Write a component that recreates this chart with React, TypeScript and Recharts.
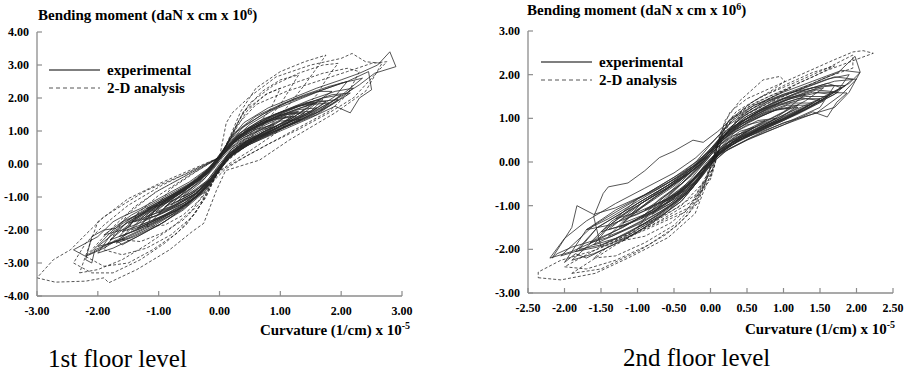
import React from 'react';
import { LineChart, Line, XAxis, YAxis } from 'recharts';

type Pt = [number, number];

// axis ticks
const floor1XTicks = [-3, -2, -1, 0, 1, 2, 3];
const floor1YTicks = [-4, -3, -2, -1, 0, 1, 2, 3, 4];
const floor2XTicks = [-2.5, -2, -1.5, -1, -0.5, 0, 0.5, 1, 1.5, 2, 2.5];
const floor2YTicks = [-3, -2, -1, 0, 1, 2, 3];

// 1st floor, experimental cycles (curvature, moment)
const floor1Experimental: Pt[][] = [
  [[-0.6, -1.0], [-0.35, -0.75], [-0.15, -0.45], [0, -0.1], [0.15, 0.3], [0.35, 0.6], [0.6, 0.85], [0.4, 0.75], [0.2, 0.5], [0.05, 0.2], [-0.1, -0.15], [-0.3, -0.55], [-0.6, -1.0]],
  [[-0.9, -1.3], [-0.6, -1.05], [-0.3, -0.75], [-0.1, -0.35], [0.05, 0.05], [0.2, 0.45], [0.5, 0.8], [0.9, 1.2], [0.6, 1.05], [0.3, 0.75], [0.1, 0.4], [-0.05, 0], [-0.25, -0.45], [-0.55, -0.85], [-0.9, -1.3]],
  [[-1.2, -1.6], [-0.9, -1.4], [-0.5, -1.05], [-0.2, -0.6], [0, -0.15], [0.15, 0.3], [0.45, 0.7], [0.8, 1.0], [1.2, 1.45], [0.9, 1.35], [0.5, 1.0], [0.2, 0.6], [0, 0.15], [-0.2, -0.3], [-0.5, -0.7], [-0.85, -1.15], [-1.2, -1.6]],
  [[-1.4, -1.75], [-1.0, -1.55], [-0.6, -1.2], [-0.25, -0.75], [-0.05, -0.25], [0.1, 0.2], [0.4, 0.6], [0.8, 0.95], [1.1, 1.25], [1.4, 1.55], [1.1, 1.5], [0.7, 1.2], [0.35, 0.85], [0.1, 0.4], [-0.1, -0.05], [-0.35, -0.5], [-0.7, -0.95], [-1.05, -1.35], [-1.4, -1.75]],
  [[-1.6, -2.05], [-1.3, -1.85], [-0.9, -1.55], [-0.5, -1.15], [-0.2, -0.65], [0, -0.2], [0.2, 0.3], [0.5, 0.7], [0.9, 1.05], [1.3, 1.4], [1.6, 1.7], [1.3, 1.65], [0.9, 1.4], [0.5, 1.05], [0.2, 0.6], [0, 0.15], [-0.25, -0.35], [-0.6, -0.8], [-1.0, -1.2], [-1.35, -1.65], [-1.6, -2.05]],
  [[-1.8, -2.3], [-1.5, -2.1], [-1.1, -1.8], [-0.7, -1.4], [-0.3, -0.85], [-0.05, -0.3], [0.15, 0.2], [0.45, 0.6], [0.9, 0.95], [1.3, 1.3], [1.8, 1.85], [1.5, 1.8], [1.1, 1.55], [0.7, 1.25], [0.3, 0.85], [0.05, 0.3], [-0.2, -0.25], [-0.55, -0.75], [-0.95, -1.2], [-1.4, -1.7], [-1.8, -2.3]],
  [[-2.0, -2.5], [-1.7, -2.35], [-1.3, -2.0], [-0.8, -1.55], [-0.4, -1.0], [-0.1, -0.4], [0.1, 0.1], [0.4, 0.5], [0.8, 0.9], [1.3, 1.3], [1.7, 1.7], [2.0, 2.1], [1.7, 2.0], [1.3, 1.75], [0.9, 1.5], [0.5, 1.1], [0.2, 0.6], [0, 0.2], [-0.25, -0.3], [-0.6, -0.75], [-1.0, -1.2], [-1.5, -1.75], [-2.0, -2.5]],
  [[-2.15, -2.75], [-1.9, -2.5], [-1.7, -2.3], [-1.6, -2.45], [-1.3, -2.15], [-0.9, -1.75], [-0.5, -1.2], [-0.15, -0.55], [0.05, 0], [0.3, 0.45], [0.7, 0.85], [1.2, 1.2], [1.6, 1.5], [2.0, 2.0], [2.2, 2.3], [1.9, 2.2], [1.5, 1.95], [1.1, 1.65], [0.7, 1.35], [0.35, 0.95], [0.1, 0.45], [-0.1, 0], [-0.4, -0.5], [-0.8, -0.95], [-1.2, -1.35], [-1.55, -1.75], [-1.75, -2.0], [-2.15, -2.75]],
  [[-2.2, -2.9], [-2.1, -3.0], [-2.05, -2.6], [-1.8, -2.4], [-1.5, -2.25], [-1.1, -1.9], [-0.7, -1.45], [-0.3, -0.9], [-0.05, -0.3], [0.15, 0.2], [0.5, 0.6], [1.0, 1.0], [1.5, 1.4], [1.9, 1.75], [2.15, 1.55], [2.3, 2.0], [2.5, 2.25], [2.45, 2.8], [2.1, 2.5], [1.7, 2.25], [1.3, 1.95], [0.9, 1.65], [0.5, 1.2], [0.2, 0.7], [0, 0.25], [-0.2, -0.2], [-0.5, -0.65], [-0.9, -1.05], [-1.3, -1.5], [-1.6, -1.75], [-1.7, -1.95], [-1.9, -2.0], [-2.1, -2.2], [-2.2, -2.9]],
  [[-2.4, -2.6], [-2.2, -2.8], [-1.9, -2.55], [-1.5, -2.1], [-1.0, -1.65], [-0.5, -1.1], [-0.15, -0.5], [0.1, 0.1], [0.4, 0.55], [0.9, 1.05], [1.5, 1.55], [2.0, 2.05], [2.3, 2.4], [2.55, 2.75], [2.9, 2.95], [2.8, 3.4], [2.6, 3.0], [2.3, 2.75], [2.0, 2.55], [1.6, 2.3], [1.2, 2.0], [0.8, 1.7], [0.4, 1.25], [0.15, 0.7], [0, 0.25], [-0.2, -0.15], [-0.5, -0.55], [-0.9, -0.95], [-1.3, -1.35], [-1.6, -1.6], [-1.75, -1.75], [-2.0, -2.2], [-2.4, -2.6]],
  [[-1.1, -1.7], [-0.8, -1.45], [-0.45, -1.1], [-0.15, -0.6], [0.05, -0.05], [0.25, 0.4], [0.6, 0.8], [1.0, 1.1], [1.35, 1.35], [1.0, 1.3], [0.6, 1.0], [0.25, 0.65], [0.05, 0.25], [-0.15, -0.2], [-0.45, -0.7], [-0.8, -1.15], [-1.1, -1.7]],
  [[-1.5, -1.8], [-1.2, -1.6], [-0.8, -1.3], [-0.4, -0.9], [-0.1, -0.4], [0.1, 0.1], [0.35, 0.55], [0.75, 1.0], [1.2, 1.4], [1.55, 1.85], [1.25, 1.75], [0.85, 1.45], [0.45, 1.05], [0.15, 0.55], [-0.05, 0.05], [-0.3, -0.45], [-0.7, -0.9], [-1.1, -1.3], [-1.5, -1.8]],
  [[-1.3, -1.85], [-1.0, -1.65], [-0.6, -1.3], [-0.3, -0.9], [-0.1, -0.45], [0.05, 0], [0.25, 0.4], [0.6, 0.8], [1.0, 1.15], [1.5, 1.6], [1.7, 1.95], [1.4, 1.85], [1.0, 1.55], [0.6, 1.2], [0.25, 0.75], [0.05, 0.3], [-0.15, -0.15], [-0.45, -0.6], [-0.85, -1.05], [-1.3, -1.85]],
  [[-1.9, -2.15], [-1.6, -2.0], [-1.2, -1.7], [-0.8, -1.35], [-0.4, -0.9], [-0.1, -0.35], [0.1, 0.15], [0.45, 0.55], [0.9, 0.95], [1.4, 1.45], [1.9, 2.05], [2.1, 2.5], [1.8, 2.35], [1.4, 2.1], [1.0, 1.8], [0.6, 1.45], [0.25, 0.95], [0.05, 0.4], [-0.15, -0.1], [-0.5, -0.6], [-0.95, -1.05], [-1.45, -1.55], [-1.9, -2.15]],
  [[-0.8, -1.25], [-0.5, -0.95], [-0.2, -0.55], [0, -0.1], [0.2, 0.35], [0.5, 0.75], [0.8, 1.05], [1.1, 1.45], [0.8, 1.3], [0.5, 1.0], [0.2, 0.6], [0, 0.2], [-0.2, -0.25], [-0.5, -0.7], [-0.8, -1.25]],
  [[-1.7, -2.4], [-1.4, -2.2], [-1.0, -1.85], [-0.6, -1.4], [-0.25, -0.85], [-0.05, -0.3], [0.15, 0.2], [0.5, 0.65], [0.95, 1.1], [1.45, 1.7], [1.85, 2.2], [1.6, 2.2], [1.2, 1.95], [0.8, 1.6], [0.4, 1.15], [0.15, 0.6], [-0.05, 0.1], [-0.35, -0.45], [-0.75, -0.95], [-1.2, -1.5], [-1.7, -2.4]],
  [[-1.0, -1.5], [-0.7, -1.25], [-0.35, -0.85], [-0.1, -0.35], [0.1, 0.15], [0.35, 0.6], [0.7, 0.95], [1.05, 1.25], [1.3, 1.6], [1.0, 1.5], [0.65, 1.2], [0.3, 0.85], [0.05, 0.35], [-0.15, -0.1], [-0.4, -0.55], [-0.7, -0.95], [-1.0, -1.5]],
  [[-1.45, -2.0], [-1.1, -1.75], [-0.7, -1.4], [-0.35, -0.95], [-0.1, -0.4], [0.1, 0.1], [0.4, 0.55], [0.8, 0.9], [1.25, 1.3], [1.65, 1.6], [1.95, 1.95], [1.65, 1.9], [1.25, 1.65], [0.85, 1.35], [0.45, 1.0], [0.15, 0.55], [-0.05, 0.1], [-0.3, -0.4], [-0.65, -0.85], [-1.05, -1.3], [-1.45, -2.0]],
  [[-2.0, -2.7], [-1.75, -2.55], [-1.35, -2.2], [-0.95, -1.8], [-0.55, -1.3], [-0.2, -0.7], [0, -0.1], [0.25, 0.35], [0.65, 0.8], [1.1, 1.15], [1.6, 1.55], [2.05, 2.15], [2.35, 2.6], [2.0, 2.45], [1.55, 2.15], [1.1, 1.85], [0.7, 1.5], [0.3, 1.0], [0.05, 0.4], [-0.2, -0.2], [-0.55, -0.75], [-0.95, -1.2], [-1.4, -1.65], [-1.75, -2.05], [-2.0, -2.7]],
  [[-1.2, -1.35], [-0.9, -1.2], [-0.5, -0.9], [-0.2, -0.5], [0, 0], [0.2, 0.45], [0.5, 0.85], [0.9, 1.25], [1.25, 1.55], [0.95, 1.45], [0.55, 1.1], [0.25, 0.7], [0.05, 0.3], [-0.15, -0.15], [-0.45, -0.6], [-0.8, -0.95], [-1.2, -1.35]],
  [[-0.7, -1.15], [-0.45, -0.9], [-0.2, -0.5], [0, -0.05], [0.2, 0.4], [0.45, 0.7], [0.75, 0.95], [0.95, 1.15], [0.7, 1.05], [0.4, 0.8], [0.15, 0.45], [-0.05, 0.05], [-0.25, -0.4], [-0.5, -0.8], [-0.7, -1.15]],
  [[-1.35, -1.95], [-1.05, -1.7], [-0.65, -1.35], [-0.3, -0.85], [-0.05, -0.2], [0.15, 0.25], [0.5, 0.7], [0.9, 1.05], [1.35, 1.5], [1.6, 1.85], [1.3, 1.75], [0.9, 1.45], [0.5, 1.1], [0.2, 0.65], [0, 0.2], [-0.25, -0.35], [-0.6, -0.85], [-1.0, -1.3], [-1.35, -1.95]],
  [[-1.65, -2.2], [-1.35, -2.0], [-0.95, -1.65], [-0.55, -1.25], [-0.2, -0.7], [0, -0.15], [0.2, 0.3], [0.55, 0.75], [1.0, 1.15], [1.45, 1.5], [1.75, 1.9], [1.45, 1.85], [1.05, 1.6], [0.65, 1.3], [0.3, 0.9], [0.05, 0.35], [-0.2, -0.2], [-0.55, -0.7], [-0.95, -1.15], [-1.35, -1.6], [-1.65, -2.2]],
  [[-1.05, -1.45], [-0.75, -1.25], [-0.4, -0.9], [-0.15, -0.45], [0.05, 0.05], [0.3, 0.5], [0.65, 0.9], [1.0, 1.2], [1.25, 1.45], [0.95, 1.35], [0.6, 1.05], [0.3, 0.75], [0.05, 0.3], [-0.15, -0.2], [-0.45, -0.65], [-0.75, -1.0], [-1.05, -1.45]],
  [[-1.85, -2.45], [-1.55, -2.25], [-1.15, -1.9], [-0.75, -1.5], [-0.35, -0.95], [-0.05, -0.3], [0.2, 0.25], [0.6, 0.75], [1.05, 1.1], [1.5, 1.45], [1.85, 1.8], [2.15, 2.15], [1.85, 2.1], [1.45, 1.85], [1.05, 1.55], [0.65, 1.2], [0.3, 0.8], [0.05, 0.3], [-0.2, -0.25], [-0.6, -0.8], [-1.05, -1.25], [-1.5, -1.7], [-1.85, -2.45]],
  [[-1.25, -1.7], [-0.95, -1.5], [-0.55, -1.15], [-0.25, -0.7], [-0.05, -0.2], [0.15, 0.3], [0.45, 0.65], [0.85, 1.0], [1.25, 1.35], [1.5, 1.6], [1.2, 1.55], [0.8, 1.3], [0.4, 0.95], [0.15, 0.5], [-0.05, 0.05], [-0.3, -0.45], [-0.65, -0.9], [-0.95, -1.2], [-1.25, -1.7]],
];

// 1st floor, 2-D analysis cycles
const floor1Analysis: Pt[][] = [
  [[-3.0, -3.45], [-2.7, -3.58], [-2.2, -3.55], [-1.9, -3.45], [-1.82, -3.6], [-1.36, -3.2], [-0.82, -2.6], [-0.45, -2.05], [-0.26, -1.8], [-0.05, -0.8], [0.1, -0.2], [0.66, 0.12], [1.15, 0.73], [1.9, 1.55], [2.4, 2.2], [2.67, 3.05], [2.4, 3.1], [2.18, 3.35], [2.0, 3.2], [1.5, 3.0], [0.93, 2.64], [0.49, 2.03], [0.21, 1.55], [0.11, 1.24], [0, 0.2], [-0.55, -0.3], [-1.2, -0.8], [-1.47, -1.1], [-1.9, -1.6], [-2.18, -2.1], [-2.45, -2.6], [-2.73, -2.9], [-3.0, -3.45]],
  [[-2.4, -3.0], [-2.1, -3.3], [-1.75, -3.3], [-1.3, -2.9], [-0.9, -2.4], [-0.55, -1.85], [-0.3, -1.2], [-0.12, -0.55], [0.1, -0.15], [0.45, 0.25], [0.9, 0.7], [1.4, 1.2], [1.8, 1.6], [2.1, 2.1], [2.3, 2.8], [2.1, 2.9], [1.7, 2.75], [1.3, 2.5], [0.8, 2.15], [0.4, 1.6], [0.22, 0.95], [0.08, 0.45], [0, 0.2], [-0.45, -0.2], [-0.95, -0.65], [-1.5, -1.25], [-1.9, -1.85], [-2.2, -2.4], [-2.4, -3.0]],
  [[-2.2, -2.8], [-1.9, -3.1], [-1.5, -3.0], [-1.1, -2.6], [-0.7, -2.1], [-0.4, -1.5], [-0.2, -0.9], [-0.05, -0.35], [0.15, 0.0], [0.5, 0.4], [0.9, 0.9], [1.3, 1.5], [1.6, 2.1], [1.8, 2.7], [1.95, 3.05], [1.7, 3.0], [1.3, 2.75], [0.9, 2.4], [0.5, 1.85], [0.3, 1.25], [0.12, 0.6], [0, 0.2], [-0.5, -0.3], [-1.0, -0.8], [-1.4, -1.3], [-1.8, -2.0], [-2.2, -2.8]],
  [[-1.9, -2.6], [-1.6, -2.75], [-1.2, -2.55], [-0.8, -2.15], [-0.45, -1.6], [-0.22, -1.0], [-0.08, -0.4], [0.1, 0.05], [0.4, 0.5], [0.8, 1.1], [1.1, 1.7], [1.4, 2.4], [1.75, 3.3], [1.4, 3.1], [1.0, 2.8], [0.6, 2.3], [0.35, 1.6], [0.2, 0.95], [0.05, 0.35], [0, 0.2], [-0.55, -0.35], [-1.05, -0.85], [-1.5, -1.5], [-1.9, -2.6]],
  [[-1.6, -2.3], [-1.3, -2.35], [-0.95, -2.1], [-0.6, -1.7], [-0.3, -1.15], [-0.12, -0.55], [0.05, -0.05], [0.3, 0.45], [0.65, 1.05], [1.0, 1.8], [1.3, 2.7], [1.0, 2.55], [0.7, 2.2], [0.4, 1.6], [0.2, 0.9], [0.05, 0.35], [0, 0.2], [-0.5, -0.35], [-1.0, -0.95], [-1.35, -1.5], [-1.6, -2.3]],
  [[-1.2, -1.9], [-0.9, -1.85], [-0.6, -1.55], [-0.3, -1.05], [-0.1, -0.5], [0.05, 0], [0.3, 0.55], [0.6, 1.1], [0.85, 1.7], [1.0, 2.3], [0.75, 2.1], [0.45, 1.6], [0.25, 1.0], [0.1, 0.5], [0, 0.2], [-0.4, -0.25], [-0.8, -0.75], [-1.05, -1.3], [-1.2, -1.9]],
  [[-2.3, -3.3], [-2.0, -3.2], [-1.6, -2.9], [-1.2, -2.45], [-0.8, -1.95], [-0.45, -1.4], [-0.2, -0.75], [0, -0.2], [0.3, 0.1], [0.8, 0.6], [1.3, 1.05], [1.8, 1.55], [2.2, 2.0], [2.5, 2.6], [2.75, 3.1], [2.5, 3.05], [2.1, 2.8], [1.6, 2.5], [1.1, 2.2], [0.6, 1.8], [0.3, 1.2], [0.12, 0.55], [0, 0.2], [-0.5, -0.2], [-1.0, -0.6], [-1.5, -1.05], [-2.0, -1.75], [-2.3, -3.3]],
];

// 2nd floor, experimental cycles
const floor2Experimental: Pt[][] = [
  [[-0.6, -0.9], [-0.35, -0.65], [-0.15, -0.35], [0, 0], [0.15, 0.35], [0.35, 0.6], [0.6, 0.8], [0.4, 0.7], [0.2, 0.45], [0.05, 0.15], [-0.1, -0.15], [-0.3, -0.5], [-0.6, -0.9]],
  [[-0.9, -1.1], [-0.6, -0.85], [-0.3, -0.55], [-0.1, -0.2], [0.05, 0.15], [0.25, 0.45], [0.55, 0.75], [0.9, 1.0], [0.65, 0.95], [0.35, 0.7], [0.1, 0.35], [-0.05, 0.05], [-0.25, -0.3], [-0.55, -0.7], [-0.9, -1.1]],
  [[-1.2, -1.4], [-0.9, -1.2], [-0.5, -0.85], [-0.2, -0.45], [0, 0], [0.2, 0.35], [0.5, 0.65], [0.85, 0.95], [1.2, 1.25], [0.9, 1.2], [0.5, 0.9], [0.2, 0.55], [0, 0.2], [-0.2, -0.15], [-0.5, -0.5], [-0.85, -0.9], [-1.2, -1.4]],
  [[-1.4, -1.7], [-1.1, -1.5], [-0.7, -1.15], [-0.35, -0.75], [-0.1, -0.25], [0.1, 0.2], [0.4, 0.55], [0.8, 0.85], [1.1, 1.05], [1.4, 1.35], [1.1, 1.35], [0.7, 1.1], [0.35, 0.8], [0.1, 0.4], [-0.1, 0], [-0.4, -0.4], [-0.75, -0.8], [-1.1, -1.2], [-1.4, -1.7]],
  [[-1.6, -1.9], [-1.3, -1.75], [-0.9, -1.4], [-0.5, -0.95], [-0.2, -0.45], [0, 0], [0.25, 0.35], [0.6, 0.65], [1.0, 0.95], [1.3, 1.2], [1.6, 1.5], [1.3, 1.5], [0.9, 1.3], [0.5, 1.0], [0.2, 0.6], [0, 0.25], [-0.25, -0.2], [-0.6, -0.6], [-1.0, -1.0], [-1.35, -1.4], [-1.6, -1.9]],
  [[-1.8, -2.0], [-1.5, -1.9], [-1.1, -1.6], [-0.7, -1.2], [-0.3, -0.7], [-0.05, -0.15], [0.2, 0.25], [0.55, 0.55], [1.0, 0.85], [1.4, 1.15], [1.6, 1.03], [1.73, 1.37], [1.87, 1.58], [1.5, 1.6], [1.1, 1.45], [0.7, 1.2], [0.35, 0.85], [0.1, 0.45], [-0.1, 0.05], [-0.4, -0.35], [-0.8, -0.75], [-1.2, -1.15], [-1.55, -1.5], [-1.8, -2.0]],
  [[-2.0, -2.3], [-1.85, -2.1], [-1.7, -2.2], [-1.4, -1.95], [-1.0, -1.6], [-0.6, -1.15], [-0.25, -0.6], [0, -0.05], [0.25, 0.3], [0.6, 0.6], [1.0, 0.9], [1.45, 1.12], [1.8, 1.55], [2.0, 1.9], [1.7, 1.85], [1.3, 1.65], [0.9, 1.4], [0.5, 1.05], [0.2, 0.65], [0, 0.3], [-0.25, -0.1], [-0.6, -0.5], [-1.0, -0.9], [-1.4, -1.3], [-1.7, -1.55], [-2.0, -2.3]],
  [[-2.17, -2.2], [-2.1, -2.1], [-1.9, -1.95], [-1.6, -1.8], [-1.2, -1.5], [-0.8, -1.1], [-0.4, -0.65], [-0.1, -0.15], [0.15, 0.2], [0.5, 0.5], [1.0, 0.85], [1.4, 1.1], [1.7, 1.25], [1.9, 1.6], [2.05, 2.06], [1.98, 2.42], [1.75, 2.05], [1.4, 1.8], [1.0, 1.55], [0.6, 1.25], [0.25, 0.85], [0, 0.4], [-0.2, 0], [-0.5, -0.35], [-0.9, -0.75], [-1.3, -1.05], [-1.6, -1.2], [-1.83, -1.0], [-1.9, -1.5], [-2.17, -2.2]],
  [[-1.5, -1.95], [-1.2, -1.75], [-0.8, -1.35], [-0.4, -0.85], [-0.15, -0.35], [0.05, 0.1], [0.3, 0.45], [0.7, 0.7], [1.1, 0.95], [1.5, 1.25], [1.7, 1.75], [1.4, 1.7], [1.0, 1.55], [0.6, 1.3], [0.3, 1.0], [0.1, 0.7], [-0.1, 0.45], [-0.24, 0.5], [-0.5, 0.25], [-0.7, 0.1], [-0.9, -0.2], [-1.13, -0.48], [-1.4, -0.57], [-1.47, -0.72], [-1.6, -1.25], [-1.5, -1.95]],
  [[-2.2, -2.2], [-1.9, -2.05], [-1.5, -1.75], [-1.1, -1.4], [-0.7, -1.0], [-0.3, -0.55], [-0.05, 0], [0.2, 0.4], [0.6, 0.75], [1.1, 1.15], [1.5, 1.45], [1.9, 1.8], [2.05, 2.05], [1.8, 2.1], [1.4, 1.85], [1.0, 1.6], [0.6, 1.3], [0.3, 0.95], [0.05, 0.5], [-0.2, 0.1], [-0.5, -0.25], [-0.9, -0.6], [-1.3, -0.95], [-1.7, -1.35], [-2.0, -1.75], [-2.2, -2.2]],
  [[-1.0, -1.5], [-0.7, -1.25], [-0.4, -0.9], [-0.15, -0.4], [0.05, 0.05], [0.3, 0.45], [0.65, 0.85], [1.0, 1.15], [1.3, 1.55], [1.0, 1.45], [0.65, 1.15], [0.3, 0.8], [0.05, 0.35], [-0.15, -0.05], [-0.4, -0.45], [-0.7, -0.9], [-1.0, -1.5]],
  [[-1.3, -1.3], [-1.0, -1.15], [-0.6, -0.85], [-0.3, -0.5], [-0.05, -0.05], [0.2, 0.35], [0.5, 0.7], [0.9, 1.05], [1.3, 1.4], [1.55, 1.7], [1.25, 1.6], [0.85, 1.35], [0.45, 1.0], [0.15, 0.55], [-0.05, 0.15], [-0.35, -0.25], [-0.7, -0.6], [-1.0, -0.85], [-1.3, -1.3]],
  [[-1.7, -1.55], [-1.4, -1.45], [-1.0, -1.2], [-0.6, -0.85], [-0.25, -0.4], [0, 0.05], [0.3, 0.45], [0.7, 0.8], [1.1, 1.1], [1.5, 1.4], [1.85, 1.75], [1.55, 1.75], [1.15, 1.5], [0.75, 1.2], [0.4, 0.85], [0.1, 0.4], [-0.15, 0], [-0.5, -0.4], [-0.9, -0.75], [-1.3, -1.1], [-1.7, -1.55]],
  [[-1.9, -2.25], [-1.6, -2.1], [-1.2, -1.8], [-0.8, -1.4], [-0.4, -0.9], [-0.1, -0.3], [0.15, 0.25], [0.5, 0.6], [0.95, 1.0], [1.4, 1.35], [1.8, 1.7], [1.6, 1.8], [1.2, 1.6], [0.8, 1.3], [0.4, 0.9], [0.1, 0.45], [-0.15, -0.05], [-0.5, -0.55], [-0.9, -1.0], [-1.4, -1.5], [-1.9, -2.25]],
  [[-0.8, -1.2], [-0.55, -0.95], [-0.25, -0.6], [-0.05, -0.1], [0.15, 0.3], [0.45, 0.6], [0.8, 0.9], [1.1, 1.25], [0.8, 1.15], [0.45, 0.9], [0.15, 0.5], [-0.05, 0.1], [-0.3, -0.35], [-0.55, -0.75], [-0.8, -1.2]],
  [[-1.1, -1.25], [-0.8, -1.05], [-0.45, -0.75], [-0.15, -0.3], [0.05, 0.1], [0.3, 0.45], [0.65, 0.75], [1.0, 1.0], [1.35, 1.3], [1.05, 1.3], [0.7, 1.05], [0.35, 0.75], [0.1, 0.4], [-0.1, 0], [-0.4, -0.4], [-0.75, -0.8], [-1.1, -1.25]],
  [[-1.5, -1.6], [-1.2, -1.45], [-0.8, -1.15], [-0.4, -0.7], [-0.1, -0.15], [0.15, 0.3], [0.5, 0.6], [0.9, 0.9], [1.3, 1.2], [1.65, 1.55], [1.4, 1.6], [1.0, 1.4], [0.6, 1.1], [0.25, 0.7], [0, 0.3], [-0.25, -0.15], [-0.6, -0.55], [-1.0, -0.95], [-1.5, -1.6]],
  [[-2.05, -2.15], [-1.75, -2.0], [-1.35, -1.7], [-0.95, -1.35], [-0.55, -0.9], [-0.2, -0.35], [0.05, 0.1], [0.4, 0.5], [0.85, 0.85], [1.3, 1.2], [1.7, 1.55], [1.95, 1.9], [1.7, 1.95], [1.3, 1.7], [0.9, 1.45], [0.5, 1.1], [0.2, 0.7], [-0.05, 0.2], [-0.35, -0.2], [-0.75, -0.6], [-1.2, -1.05], [-1.6, -1.45], [-2.05, -2.15]],
  [[-0.7, -0.95], [-0.45, -0.7], [-0.2, -0.35], [0, 0.05], [0.2, 0.4], [0.45, 0.7], [0.75, 0.95], [0.5, 0.85], [0.25, 0.6], [0.05, 0.25], [-0.15, -0.1], [-0.4, -0.5], [-0.7, -0.95]],
  [[-1.25, -1.5], [-0.95, -1.3], [-0.55, -0.95], [-0.25, -0.55], [-0.05, -0.1], [0.2, 0.3], [0.55, 0.65], [0.95, 0.95], [1.25, 1.2], [1.5, 1.45], [1.2, 1.45], [0.85, 1.25], [0.45, 0.95], [0.15, 0.55], [-0.05, 0.15], [-0.3, -0.25], [-0.65, -0.65], [-0.95, -0.95], [-1.25, -1.5]],
  [[-1.65, -1.85], [-1.35, -1.7], [-0.95, -1.4], [-0.55, -1.0], [-0.2, -0.5], [0, 0], [0.25, 0.35], [0.6, 0.7], [1.0, 1.0], [1.4, 1.3], [1.75, 1.6], [1.45, 1.65], [1.05, 1.45], [0.65, 1.15], [0.3, 0.8], [0.05, 0.35], [-0.2, -0.05], [-0.55, -0.5], [-0.95, -0.95], [-1.35, -1.35], [-1.65, -1.85]],
  [[-0.95, -1.3], [-0.7, -1.05], [-0.4, -0.75], [-0.15, -0.35], [0.05, 0.1], [0.3, 0.4], [0.6, 0.7], [0.95, 1.0], [1.2, 1.3], [0.9, 1.2], [0.55, 0.95], [0.25, 0.65], [0.05, 0.3], [-0.15, -0.1], [-0.4, -0.5], [-0.7, -0.85], [-0.95, -1.3]],
  [[-1.85, -2.05], [-1.55, -1.95], [-1.15, -1.65], [-0.75, -1.25], [-0.35, -0.75], [-0.1, -0.2], [0.15, 0.25], [0.5, 0.6], [0.9, 0.9], [1.35, 1.25], [1.75, 1.65], [1.9, 2.0], [1.6, 1.9], [1.2, 1.65], [0.8, 1.4], [0.45, 1.05], [0.15, 0.6], [-0.05, 0.15], [-0.35, -0.3], [-0.75, -0.7], [-1.15, -1.1], [-1.55, -1.5], [-1.85, -2.05]],
  [[-1.4, -1.55], [-1.1, -1.4], [-0.75, -1.1], [-0.4, -0.7], [-0.15, -0.25], [0.1, 0.2], [0.4, 0.5], [0.8, 0.8], [1.2, 1.1], [1.55, 1.4], [1.3, 1.45], [0.95, 1.3], [0.55, 1.0], [0.2, 0.6], [0, 0.25], [-0.25, -0.15], [-0.55, -0.55], [-0.95, -0.95], [-1.4, -1.55]],
  [[-0.5, -0.8], [-0.3, -0.55], [-0.1, -0.2], [0.05, 0.15], [0.25, 0.45], [0.5, 0.7], [0.3, 0.6], [0.1, 0.35], [-0.05, 0.05], [-0.25, -0.35], [-0.5, -0.8]],
];

// 2nd floor, 2-D analysis cycles
const floor2Analysis: Pt[][] = [
  [[-2.36, -2.65], [-2.05, -2.7], [-1.58, -2.55], [-1.13, -2.2], [-0.58, -1.73], [-0.21, -1.18], [-0.1, -0.7], [0.05, -0.1], [0.12, 0.6], [0.27, 1.15], [0.5, 1.45], [0.9, 1.75], [1.37, 2.1], [1.68, 2.33], [1.95, 2.52], [2.09, 2.55], [2.23, 2.49], [2.0, 2.35], [1.6, 2.1], [1.2, 1.8], [0.8, 1.45], [0.4, 1.05], [0.15, 0.5], [0.02, -0.3], [-0.35, -1.15], [-0.9, -1.56], [-1.58, -2.02], [-2.05, -2.25], [-2.36, -2.52], [-2.36, -2.65]],
  [[-2.0, -2.4], [-1.7, -2.45], [-1.3, -2.25], [-0.85, -1.9], [-0.45, -1.45], [-0.18, -0.95], [-0.05, -0.4], [0.08, 0.3], [0.2, 0.95], [0.4, 1.4], [0.72, 1.88], [0.95, 1.96], [1.02, 1.85], [0.85, 1.65], [0.55, 1.35], [0.25, 0.95], [0.1, 0.4], [0, -0.4], [-0.3, -1.05], [-0.8, -1.45], [-1.4, -1.85], [-2.0, -2.4]],
  [[-1.6, -2.2], [-1.3, -2.15], [-0.9, -1.85], [-0.5, -1.45], [-0.2, -0.95], [-0.05, -0.35], [0.1, 0.4], [0.3, 1.0], [0.6, 1.35], [1.0, 1.65], [1.4, 1.95], [1.7, 2.2], [1.4, 2.05], [1.0, 1.75], [0.6, 1.4], [0.25, 0.95], [0.08, 0.4], [0, -0.3], [-0.4, -1.0], [-0.9, -1.45], [-1.3, -1.8], [-1.6, -2.2]],
  [[-1.9, -2.55], [-1.5, -2.45], [-1.0, -2.05], [-0.6, -1.65], [-0.3, -1.2], [-0.1, -0.6], [0.05, 0.1], [0.15, 0.7], [0.35, 1.15], [0.7, 1.5], [1.2, 1.85], [1.6, 2.15], [1.95, 2.45], [1.95, 2.15], [1.6, 1.95], [1.2, 1.65], [0.8, 1.35], [0.4, 1.0], [0.15, 0.55], [0.05, -0.1], [-0.25, -0.9], [-0.7, -1.35], [-1.3, -1.9], [-1.9, -2.55]],
  [[-1.2, -1.8], [-0.9, -1.7], [-0.55, -1.4], [-0.25, -1.0], [-0.08, -0.45], [0.05, 0.2], [0.2, 0.8], [0.45, 1.2], [0.8, 1.5], [1.1, 1.7], [0.8, 1.45], [0.45, 1.1], [0.18, 0.6], [0.05, 0], [-0.2, -0.75], [-0.6, -1.2], [-1.2, -1.8]],
];

const AXIS = '#8c8c8c';
const SERIF = '"Liberation Serif", "DejaVu Serif", "Noto Serif", "Times New Roman", Times, serif';
const tickStyle = { fontFamily: SERIF, fontWeight: 700, fontSize: 12 };

const rows = (c: Pt[]) => c.map(([x, y]) => ({ x, y }));

const BottomTick = ({ x, y, payload }: any) => (
  <g>
    <line x1={x} x2={x} y1={y} y2={y - 5} stroke={AXIS} strokeWidth={1.2} />
    <text x={x} y={y + 19} textAnchor="middle" fill="#000" style={tickStyle}>
      {Number(payload.value).toFixed(2)}
    </text>
  </g>
);
const TopTick = ({ x, y }: any) => <line x1={x} x2={x} y1={y} y2={y + 5} stroke={AXIS} strokeWidth={1.2} />;
const LeftTick = ({ x, y, payload }: any) => (
  <g>
    <line x1={x} x2={x + 5} y1={y} y2={y} stroke={AXIS} strokeWidth={1.2} />
    <text x={x - 8} y={y + 4} textAnchor="end" fill="#000" style={tickStyle}>
      {Number(payload.value).toFixed(2)}
    </text>
  </g>
);
const RightTick = ({ x, y }: any) => <line x1={x} x2={x - 5} y1={y} y2={y} stroke={AXIS} strokeWidth={1.2} />;

interface PanelProps {
  experimental: Pt[][];
  analysis: Pt[][];
  xTicks: number[];
  yTicks: number[];
  width: number;
  height: number;
  top: number;
  right: number;
  yAxisWidth: number;
}

const Panel = ({ experimental, analysis, xTicks, yTicks, width, height, top, right, yAxisWidth }: PanelProps) => {
  const xDomain = [xTicks[0], xTicks[xTicks.length - 1]];
  const yDomain = [yTicks[0], yTicks[yTicks.length - 1]];
  const axisLine = { stroke: AXIS, strokeWidth: 1.3 };
  return (
    <LineChart width={width} height={height} margin={{ top, right, bottom: 0, left: 0 }}>
      <XAxis xAxisId="b" type="number" dataKey="x" domain={xDomain} ticks={xTicks} allowDataOverflow interval={0}
        orientation="bottom" height={24} tickSize={0} tickMargin={0} tickLine={false} axisLine={axisLine}
        tick={(p: any) => <BottomTick {...p} />} />
      <XAxis xAxisId="t" type="number" dataKey="x" domain={xDomain} ticks={xTicks} allowDataOverflow interval={0}
        orientation="top" height={0} tickSize={0} tickMargin={0} tickLine={false} axisLine={axisLine}
        tick={(p: any) => <TopTick {...p} />} />
      <YAxis yAxisId="l" type="number" dataKey="y" domain={yDomain} ticks={yTicks} allowDataOverflow interval={0}
        orientation="left" width={yAxisWidth} tickSize={0} tickMargin={0} tickLine={false} axisLine={axisLine}
        tick={(p: any) => <LeftTick {...p} />} />
      <YAxis yAxisId="r" type="number" dataKey="y" domain={yDomain} ticks={yTicks} allowDataOverflow interval={0}
        orientation="right" width={0} tickSize={0} tickMargin={0} tickLine={false} axisLine={axisLine}
        tick={(p: any) => <RightTick {...p} />} />
      {experimental.map((c, i) => (
        <Line key={'e' + i} xAxisId="b" yAxisId="l" data={rows(c)} dataKey="y" type="linear"
          stroke="#2b2b2b" strokeWidth={0.8} dot={false} activeDot={false} isAnimationActive={false} />
      ))}
      {analysis.map((c, i) => (
        <Line key={'a' + i} xAxisId="b" yAxisId="l" data={rows(c)} dataKey="y" type="linear"
          stroke="#1e1e1e" strokeWidth={0.75} strokeDasharray="3 2" dot={false} activeDot={false} isAnimationActive={false} />
      ))}
    </LineChart>
  );
};

const Legend = ({ x, y }: { x: number; y: number }) => (
  <g style={{ fontFamily: SERIF, fontWeight: 700, fontSize: 15 }}>
    <line x1={x} x2={x + 51} y1={y} y2={y} stroke="#000" strokeWidth={1.2} />
    <text x={x + 58} y={y + 5}>experimental</text>
    <line x1={x} x2={x + 51} y1={y + 18} y2={y + 18} stroke="#555" strokeWidth={1} strokeDasharray="4 3" />
    <text x={x + 58} y={y + 23}>2-D analysis</text>
  </g>
);

const MomentTitle = ({ x, y }: { x: number; y: number }) => (
  <text x={x} y={y} style={{ fontFamily: SERIF, fontWeight: 700, fontSize: 15 }}>
    Bending moment (daN x cm x 10<tspan dy={-5} fontSize={10}>6</tspan><tspan dy={5}>)</tspan>
  </text>
);

const CurvatureTitle = ({ x, y }: { x: number; y: number }) => (
  <text x={x} y={y} textAnchor="end" style={{ fontFamily: SERIF, fontWeight: 700, fontSize: 15 }}>
    Curvature (1/cm) x 10<tspan dy={-6} fontSize={10}>-5</tspan>
  </text>
);

export default function App() {
  return (
    <div style={{ position: 'absolute', left: 0, top: 0, width: 905, height: 371, background: '#fff', overflow: 'hidden' }}>
      <div style={{ position: 'absolute', left: 0, top: 0 }}>
        <Panel experimental={floor1Experimental} analysis={floor1Analysis} xTicks={floor1XTicks} yTicks={floor1YTicks}
          width={420} height={320} top={32} right={18} yAxisWidth={37} />
      </div>
      <div style={{ position: 'absolute', left: 490, top: 0 }}>
        <Panel experimental={floor2Experimental} analysis={floor2Analysis} xTicks={floor2XTicks} yTicks={floor2YTicks}
          width={415} height={317} top={31} right={12} yAxisWidth={38} />
      </div>
      <svg width={905} height={371} style={{ position: 'absolute', left: 0, top: 0, pointerEvents: 'none' }}>
        <MomentTitle x={38} y={20} />
        <MomentTitle x={527} y={15} />
        <Legend x={49} y={70} />
        <Legend x={541} y={62} />
        <CurvatureTitle x={410} y={335} />
        <CurvatureTitle x={895} y={334} />
        <text x={48} y={367} style={{ fontFamily: SERIF, fontSize: 25 }}>1st floor level</text>
        <text x={623} y={366} style={{ fontFamily: SERIF, fontSize: 25 }}>2nd floor level</text>
      </svg>
    </div>
  );
}
